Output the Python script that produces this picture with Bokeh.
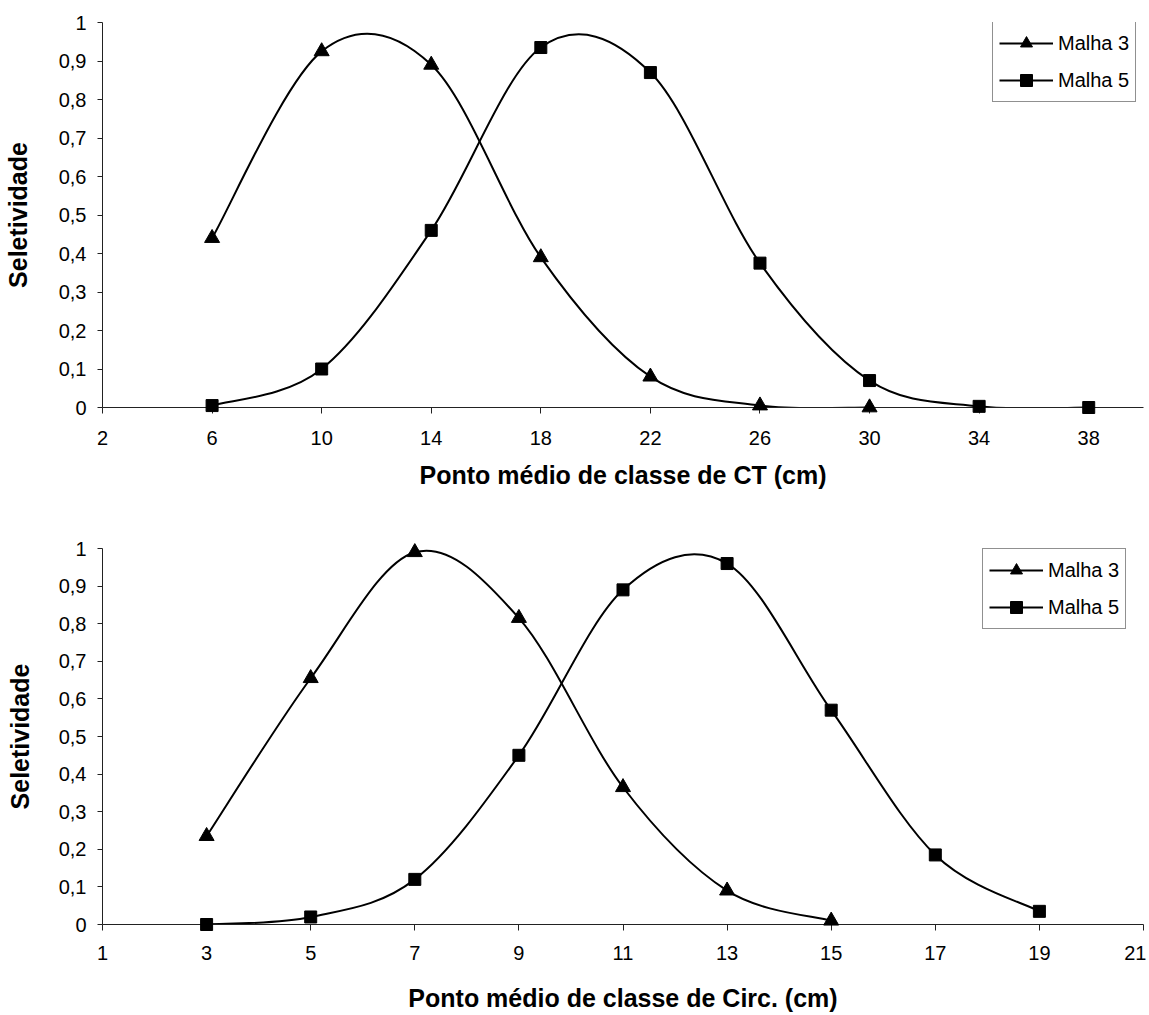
from bokeh.plotting import figure
from bokeh.models import (Range1d, FixedTicker, CustomJSTickFormatter, Legend,
                          LegendItem, ColumnDataSource)
from bokeh.layouts import column
from bokeh.embed import file_html
from bokeh.resources import INLINE

# ---------------- data ----------------
ct_x_malha3 = [6, 10, 14, 18, 22, 26, 30]
ct_y_malha3 = [0.44, 0.925, 0.89, 0.39, 0.08, 0.005, 0.0]
ct_x_malha5 = [6, 10, 14, 18, 22, 26, 30, 34, 38]
ct_y_malha5 = [0.005, 0.10, 0.46, 0.935, 0.87, 0.375, 0.07, 0.003, 0.0]
ct_xticks = [2, 6, 10, 14, 18, 22, 26, 30, 34, 38]

circ_x_malha3 = [3, 5, 7, 9, 11, 13, 15]
circ_y_malha3 = [0.235, 0.655, 0.99, 0.815, 0.365, 0.09, 0.01]
circ_x_malha5 = [3, 5, 7, 9, 11, 13, 15, 17, 19]
circ_y_malha5 = [0.0, 0.02, 0.12, 0.45, 0.89, 0.96, 0.57, 0.185, 0.035]
circ_xticks = [1, 3, 5, 7, 9, 11, 13, 15, 17, 19, 21]

y_ticks = [0, 0.1, 0.2, 0.3, 0.4, 0.5, 0.6, 0.7, 0.8, 0.9, 1.0]

series_labels = ["Malha 3", "Malha 5"]
y_title = "Seletividade"
x_title_top = "Ponto médio de classe de CT (cm)"
x_title_bottom = "Ponto médio de classe de Circ. (cm)"

FONT = "Liberation Sans"


def smooth_segments(xs, ys):
    """Cubic Bezier control points (Catmull-Rom style, like a smoothed line)."""
    n = len(xs)
    d = dict(x0=[], y0=[], x1=[], y1=[], cx0=[], cy0=[], cx1=[], cy1=[])
    for i in range(n - 1):
        im1 = max(i - 1, 0)
        ip2 = min(i + 2, n - 1)
        d["x0"].append(xs[i]); d["y0"].append(ys[i])
        d["x1"].append(xs[i + 1]); d["y1"].append(ys[i + 1])
        d["cx0"].append(xs[i] + (xs[i + 1] - xs[im1]) / 6.0)
        d["cy0"].append(ys[i] + (ys[i + 1] - ys[im1]) / 6.0)
        d["cx1"].append(xs[i + 1] - (xs[ip2] - xs[i]) / 6.0)
        d["cy1"].append(ys[i + 1] - (ys[ip2] - ys[i]) / 6.0)
    return ColumnDataSource(d)


def make_plot(x3, y3, x5, y5, xticks, xrange, xtitle, width, height,
              mb_left, mb_top, mb_bottom, legend_loc, tick_std, title_std,
              ylab_std):
    p = figure(width=width, height=height, output_backend="svg",
               toolbar_location=None,
               x_range=Range1d(*xrange), y_range=Range1d(0, 1),
               min_border_left=mb_left, min_border_right=3,
               min_border_top=mb_top, min_border_bottom=mb_bottom)
    p.outline_line_color = None
    p.background_fill_color = "white"
    p.border_fill_color = "white"
    p.xgrid.visible = False
    p.ygrid.visible = False

    items = []
    for xs, ys, marker, size, label in [
        (x3, y3, "triangle", 15, series_labels[0]),
        (x5, y5, "square", 12, series_labels[1]),
    ]:
        src = smooth_segments(xs, ys)
        br = p.bezier(x0="x0", y0="y0", x1="x1", y1="y1", cx0="cx0",
                      cy0="cy0", cx1="cx1", cy1="cy1", source=src,
                      line_color="black", line_width=2)
        sr = p.scatter(xs, ys, marker=marker, size=size, fill_color="black",
                       line_color="black", line_width=1, level="overlay")
        items.append(LegendItem(label=label, renderers=[br, sr]))

    legend = Legend(items=items, location=legend_loc, margin=0, padding=6,
                    spacing=7, glyph_width=54, glyph_height=30,
                    label_height=30, label_standoff=5,
                    label_text_font=FONT, label_text_font_size="20px",
                    label_text_color="black",
                    border_line_color="#222222", border_line_width=1,
                    background_fill_color="white", background_fill_alpha=1)
    p.add_layout(legend)

    # axes
    xa = p.xaxis[0]
    xa.ticker = FixedTicker(ticks=xticks)
    xa.minor_tick_line_color = None
    xa.major_tick_in = 0
    xa.major_tick_out = 6
    xa.axis_line_color = "#222222"
    xa.major_tick_line_color = "#222222"
    xa.major_label_text_font = FONT
    xa.major_label_text_font_size = "20px"
    xa.major_label_text_color = "black"
    xa.major_label_standoff = tick_std
    xa.axis_label = xtitle
    xa.axis_label_text_font = FONT
    xa.axis_label_text_font_style = "bold"
    xa.axis_label_text_font_size = "25px"
    xa.axis_label_text_color = "black"
    xa.axis_label_standoff = title_std

    ya = p.yaxis[0]
    ya.ticker = FixedTicker(ticks=y_ticks)
    ya.formatter = CustomJSTickFormatter(
        code="return (Math.round(tick*10)/10).toString().replace('.', ',');")
    ya.minor_tick_line_color = None
    ya.major_tick_in = 0
    ya.major_tick_out = 5
    ya.axis_line_color = "#222222"
    ya.major_tick_line_color = "#222222"
    ya.major_label_text_font = FONT
    ya.major_label_text_font_size = "20px"
    ya.major_label_text_color = "black"
    ya.major_label_standoff = 11
    ya.axis_label = y_title
    ya.axis_label_text_font = FONT
    ya.axis_label_text_font_style = "bold"
    ya.axis_label_text_font_size = "25px"
    ya.axis_label_text_color = "black"
    ya.axis_label_standoff = ylab_std
    return p


top = make_plot(ct_x_malha3, ct_y_malha3, ct_x_malha5, ct_y_malha5,
                ct_xticks, (2, 40), x_title_top, 1146, 510,
                99, 22, 103, (890, 305), 17, 13, 24)
bottom = make_plot(circ_x_malha3, circ_y_malha3, circ_x_malha5, circ_y_malha5,
                   circ_xticks, (1, 21), x_title_bottom, 1146, 504,
                   97, 38, 88, (880, 295), 15, 21, 22)

layout = column(top, bottom, spacing=0)

open("out.html", "w").write(file_html(layout, INLINE))
